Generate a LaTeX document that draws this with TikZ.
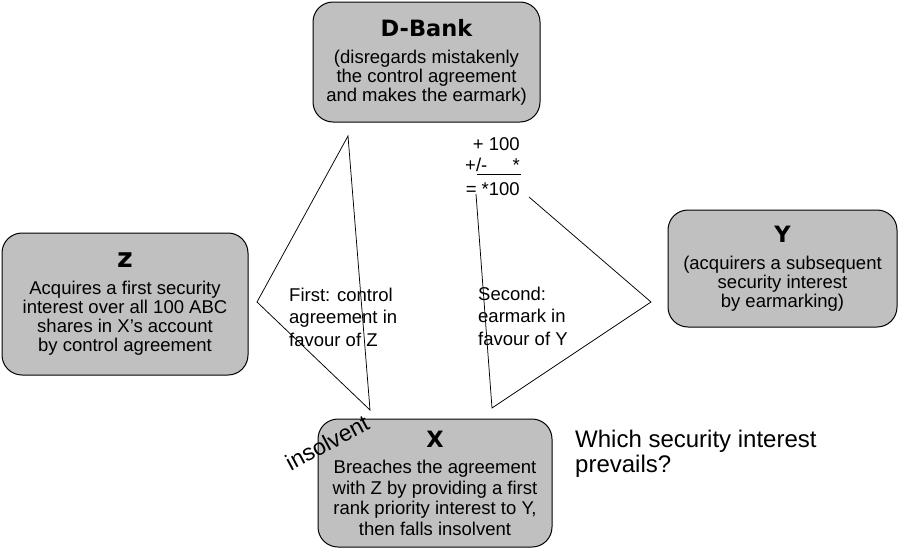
\documentclass[tikz,border=0pt]{standalone}
\usepackage{fontspec}
\setmainfont{Liberation Sans}
\newfontfamily\titlefont{DejaVu Sans Bold}
\definecolor{boxgray}{RGB}{192,192,192}
\newcommand\bodysize{\fontsize{18.5}{19}\selectfont}
\newcommand\ttl[1]{{\titlefont\fontsize{22.5}{22}\selectfont #1}}
\tikzset{
  box/.style={draw=black, fill=boxgray, rounded corners=20pt, line width=1pt,
    align=center, font=\bodysize, inner sep=0pt},
  lbl/.style={align=left, font=\fontsize{18.5}{22.5}\selectfont, inner sep=0pt, anchor=base west},
  num/.style={font=\fontsize{18.5}{20}\selectfont, inner sep=0pt},
  thin/.style={line width=0.75pt, black}
}
\begin{document}
\begin{tikzpicture}[x=1pt,y=-1pt]
\useasboundingbox (0,0) rectangle (900,549);
% boxes
\node[box, minimum width=227pt, minimum height=120pt] (dbank) at (426.5,62)
  {\ttl{D-Bank}\\[8pt](disregards mistakenly\\the control agreement\\and makes the earmark)};
\node[box, minimum width=246pt, minimum height=142pt] (zbox) at (125,304)
  {{\titlefont\fontsize{27}{22}\selectfont z}\\[8pt]Acquires a first security\\interest over all 100 ABC\\shares in X’s account\\by control agreement};
\node[box, minimum width=229pt, minimum height=117pt] (ybox) at (782.5,268.5)
  {\ttl{Y}\\[8pt](acquirers a subsequent\\security interest\\by earmarking)};
\node[box, minimum width=234pt, minimum height=128pt, font=\fontsize{18.5}{20.5}\selectfont] (xbox) at (435,483)
  {\ttl{X}\\[6pt]Breaches the agreement\\with Z by providing a first\\rank priority interest to Y,\\then falls insolvent};
% triangle lines
\coordinate (a1) at (348,136);
\coordinate (a2) at (257,302);
\coordinate (a3) at (370,410);
\draw[thin] (a1) -- (a2) -- (a3) -- cycle;
\coordinate (b1) at (476,194);
\coordinate (b2) at (492,408);
\coordinate (b3) at (651,302);
\coordinate (b4) at (529,197);
\draw[thin] (b1) -- (b2) -- (b3) -- (b4);
% numbers
\node[num, anchor=base east] (n1) at (520,150) {+ 100};
\node[num, anchor=base west] (n2) at (465,171) {+/-};
\node[num, anchor=base east] (n3) at (520,171) {*};
\coordinate (u1) at (477,174);
\coordinate (u2) at (521,174);
\draw[thin] (u1) -- (u2);
\node[num, anchor=base east] (n4) at (520,195) {= *100};
% labels
\node[lbl] (first) at (289,346) {First: control\\agreement in\\favour of Z};
\node[lbl] (second) at (478,345) {Second:\\earmark in\\favour of Y};
\node[font=\fontsize{23}{23}\selectfont, inner sep=0pt, rotate=28, anchor=base] (insolv) at (331,450) {insolvent};
\node[align=left, font=\fontsize{24}{25}\selectfont, inner sep=0pt, anchor=base west] (q) at (575,472) {Which security interest\\prevails?};
\end{tikzpicture}
\end{document}
